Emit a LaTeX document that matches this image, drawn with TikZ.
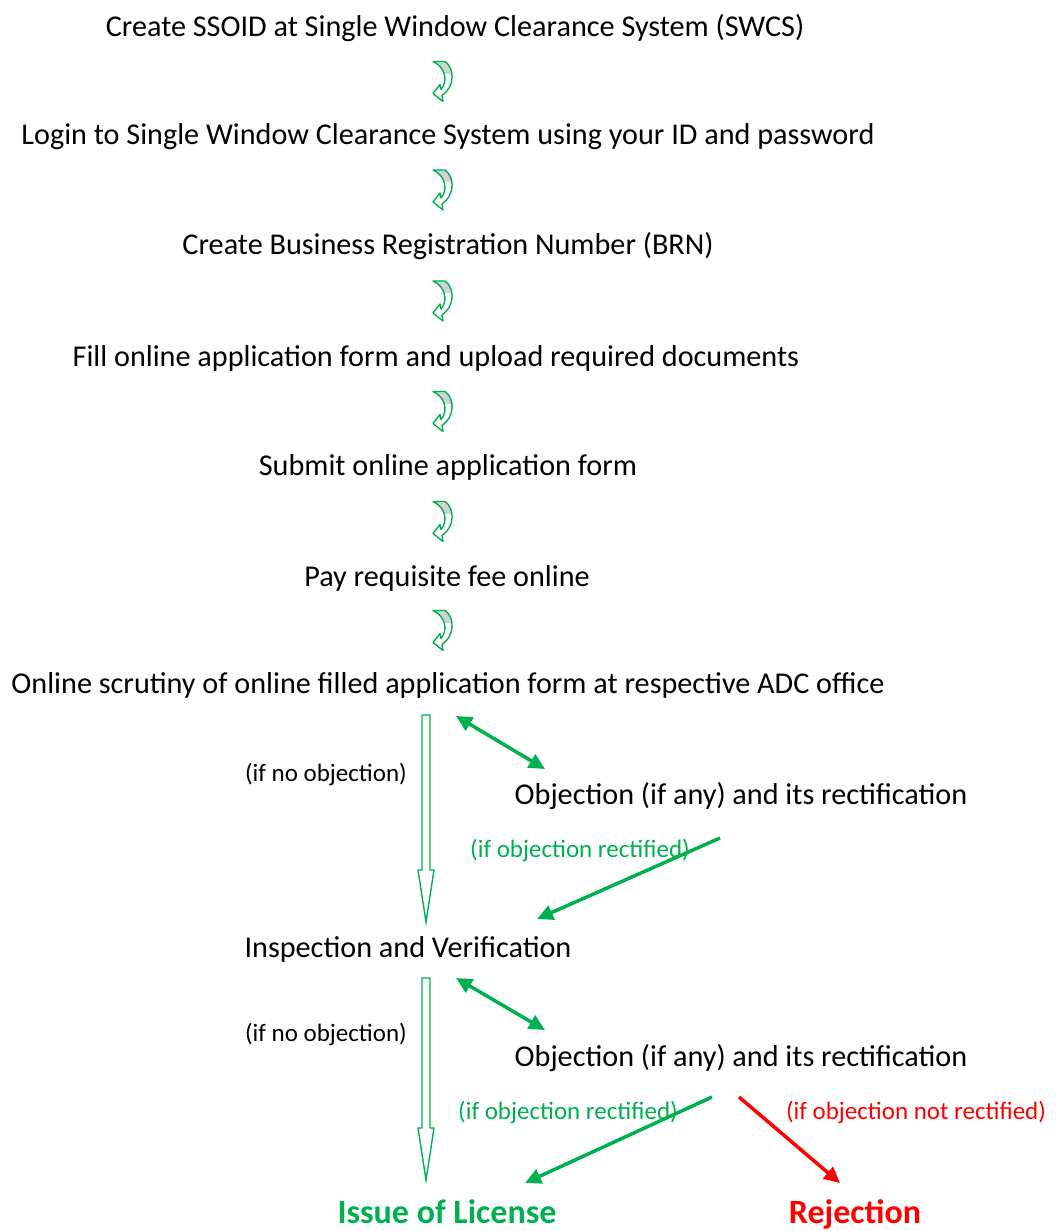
\documentclass[tikz,border=0pt]{standalone}
\usepackage{fontspec}
\setmainfont{Carlito}
\usetikzlibrary{calc,positioning,arrows.meta}
\definecolor{okgreen}{HTML}{00B050}
\definecolor{badred}{HTML}{FF0000}

% outline of the small bent block arrow
\newcommand{\bentpath}{(-11,-20) -- (1,-20) .. controls (10,-14) and (12,4) .. (-2,14) -- (-1,20) -- (-11,12) -- (-4,3) -- (-3,8) .. controls (4,0) and (2,-14) .. cycle}
\tikzset{bentarrow/.pic={
  \fill[white] \bentpath;
  \begin{scope}
    \clip \bentpath;
    \fill[gray!35] (-14,-22) rectangle (14,-8);
  \end{scope}
  \draw[okgreen, line width=1.4pt, line join=round] \bentpath;
}}

\begin{document}
\begin{tikzpicture}[x=1pt, y=-1pt,
  stepbox/.style={anchor=base, inner sep=2pt, font=\fontsize{30.2}{36}\selectfont},
  note/.style={anchor=base, inner sep=2pt, font=\fontsize{25}{30}\selectfont},
  final/.style={anchor=base, inner sep=0pt, font=\fontsize{34}{40}\selectfont\bfseries},
  dbl/.style={okgreen, line width=3.5pt, {Triangle[length=16pt,width=15pt]}-{Triangle[length=16pt,width=15pt]}},
  sgl/.style={line width=3.5pt, -{Triangle[length=16pt,width=15pt]}},
  hollow/.style={okgreen, line width=1.4pt, line join=miter, fill=white}]
\useasboundingbox (0,0) rectangle (1055,1231);

\node[stepbox] (s1) at (455,37) {Create SSOID at Single Window Clearance System (SWCS)};
\node[stepbox] (s2) at (448,144) {Login to Single Window Clearance System using your ID and password};
\node[stepbox] (s3) at (448,254) {Create Business Registration Number (BRN)};
\node[stepbox] (s4) at (436,366) {Fill online application form and upload required documents};
\node[stepbox] (s5) at (448,475) {Submit online application form};
\node[stepbox] (s6) at (447,586) {Pay requisite fee online};
\node[stepbox] (s7) at (448,693) {Online scrutiny of online filled application form at respective ADC office};
\node[stepbox] (obj1) at (741,804) {Objection (if any) and its rectification};
\node[stepbox] (ins) at (408,957) {Inspection and Verification};
\node[stepbox] (obj2) at (741,1066) {Objection (if any) and its rectification};
\node[note] (noobj1) at (326,781) {(if no objection)};
\node[note] (noobj2) at (326,1041) {(if no objection)};
\node[note, okgreen] (rect1) at (580,857) {(if objection rectified)};
\node[note, okgreen] (rect2) at (568,1119) {(if objection rectified)};
\node[note, badred] (notrect) at (916,1119) {(if objection not rectified)};
\node[final, okgreen] (lic) at (447,1223) {Issue of License};
\node[final, badred] (rej) at (855,1223) {Rejection};

\coordinate (ax) at (444,0);
\foreach \a/\b in {s1/s2,s2/s3,s3/s4,s4/s5,s5/s6,s6/s7}{
  \pic at ($(ax |- \a.base)!0.5!(ax |- \b.base)+(0,-9)$) {bentarrow};
}

% ends of the hollow arrows
\coordinate (h1top) at ($(s7.base)+(-22,22)$);
\coordinate (h1tip) at ($(ins.base)+(18,-35)$);
\coordinate (h2top) at ($(ins.base)+(18,21)$);
\coordinate (h2tip) at ($(lic.base)+(-21,-43)$);
\foreach \p/\q in {h1top/h1tip,h2top/h2tip}{
  \draw[hollow] ($(\p)+(-4,0)$) -- ($(\q)+(-4,-52)$) -- ($(\q)+(-8,-52)$) -- (\q)
    -- ($(\q)+(8,-52)$) -- ($(\q)+(4,-52)$) -- ($(\p)+(4,0)$) -- cycle;
}

\draw[dbl] ($(s7.base)+(8,23)$) -- ($(obj1.base)+(-196,-35)$);
\draw[dbl] ($(ins.base)+(48,21)$) -- ($(obj2.base)+(-196,-36)$);
\draw[sgl, okgreen] ($(obj1.base)+(-21,34)$) -- ($(ins.base)+(129,-38)$);
\draw[sgl, okgreen] ($(obj2.base)+(-29,31)$) -- ($(lic.base)+(78,-40)$);
\draw[sgl, badred] ($(obj2.base)+(-2,31)$) -- ($(rej.base)+(-15,-40)$);
\end{tikzpicture}
\end{document}
